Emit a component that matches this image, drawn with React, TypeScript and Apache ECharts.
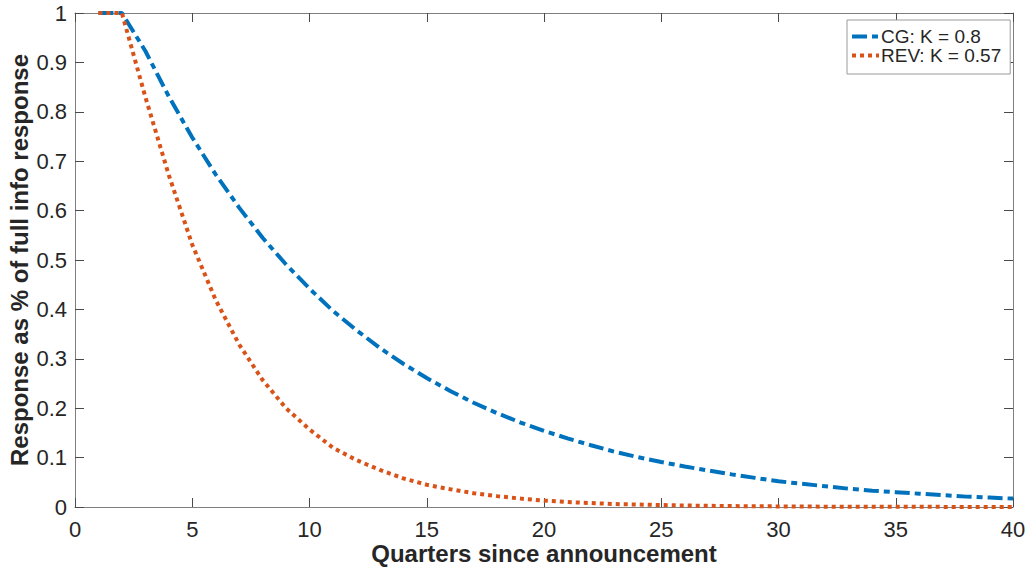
import React, { useEffect, useRef } from "react";
import * as echarts from "echarts";

const quarters = [1, 2, 3, 4, 5, 6, 7, 8, 9, 10, 11, 12, 13, 14, 15, 16, 17, 18, 19, 20, 21, 22, 23, 24, 25, 26, 27, 28, 29, 30, 31, 32, 33, 34, 35, 36, 37, 38, 39, 40];

const cgValues = [1, 1, 0.923, 0.831, 0.748, 0.673, 0.606, 0.545, 0.491, 0.442, 0.397, 0.358, 0.322, 0.29, 0.261, 0.235, 0.211, 0.19, 0.171, 0.154, 0.139, 0.125, 0.112, 0.101, 0.091, 0.082, 0.074, 0.066, 0.059, 0.052, 0.047, 0.042, 0.037, 0.033, 0.03, 0.027, 0.024, 0.021, 0.019, 0.017];

const revValues = [1, 1, 0.83, 0.672, 0.531, 0.419, 0.329, 0.257, 0.2, 0.157, 0.12, 0.095, 0.075, 0.058, 0.045, 0.036, 0.028, 0.022, 0.017, 0.013, 0.01, 0.008, 0.006, 0.005, 0.004, 0.003, 0.0024, 0.0019, 0.0015, 0.0012, 0.0009, 0.0007, 0.0006, 0.0005, 0.0004, 0.0003, 0.00025, 0.0002, 0.00015, 0.0001];

const seriesNames = ["CG: K = 0.8", "REV: K = 0.57"];
const xTitle = "Quarters since announcement";
const yTitle = "Response as % of full info response";

const FONT = "'Liberation Sans', Arial, Helvetica, sans-serif";
const AXIS_COLOR = "#7f7f7f";
const TEXT_COLOR = "#262626";
const BLUE = "#0072BD";
const ORANGE = "#D95319";
const BLUE_DASH = [15, 5, 6, 5];
const ORANGE_DASH = [4, 4];

export default function App() {
  const ref = useRef<HTMLDivElement>(null);

  useEffect(() => {
    if (!ref.current) return;
    const chart = echarts.init(ref.current, undefined, { renderer: "svg" });

    const axisCommon = {
      axisLine: { show: true, onZero: false, lineStyle: { color: AXIS_COLOR, width: 1 } },
      axisTick: { show: true, inside: true, length: 9, lineStyle: { color: "#4a4a4a", width: 1 } },
      splitLine: { show: false },
    };

    chart.setOption({
      animation: false,
      backgroundColor: "#ffffff",
      textStyle: { fontFamily: FONT },
      grid: { left: 75, right: 13, top: 13, bottom: 64, containLabel: false, outerBoundsMode: "none" },
      legend: {
        show: true,
        left: 847,
        top: 20,
        orient: "vertical",
        padding: [7, 9, 9, 3],
        itemGap: 0,
        itemWidth: 27,
        itemHeight: 17,
        backgroundColor: "#ffffff",
        borderColor: "#9a9a9a",
        borderWidth: 1,
        borderRadius: 0,
        textStyle: { fontFamily: FONT, fontSize: 19, color: TEXT_COLOR, lineHeight: 17, padding: [0, 0, 0, -3] },
        data: [
          {
            name: seriesNames[0],
            itemStyle: { opacity: 0 },
            lineStyle: { color: BLUE, width: 4, type: BLUE_DASH, cap: "butt" },
          },
          {
            name: seriesNames[1],
            itemStyle: { opacity: 0 },
            lineStyle: { color: ORANGE, width: 4, type: ORANGE_DASH, cap: "butt" },
          },
        ],
      },
      xAxis: [
        {
          type: "value",
          min: 0,
          max: 40,
          interval: 5,
          position: "bottom",
          ...axisCommon,
          axisLabel: { show: true, fontSize: 22, color: TEXT_COLOR, margin: 11, fontFamily: FONT, lineHeight: 22 },
          name: xTitle,
          nameLocation: "middle",
          nameGap: 34,
          nameMoveOverlap: false,
          nameTextStyle: { fontSize: 24, fontWeight: "bold", color: TEXT_COLOR, fontFamily: FONT, lineHeight: 24 },
        },
        {
          type: "value",
          min: 0,
          max: 40,
          interval: 5,
          position: "top",
          ...axisCommon,
          axisLabel: { show: false },
        },
      ],
      yAxis: [
        {
          type: "value",
          min: 0,
          max: 1,
          interval: 0.1,
          position: "left",
          ...axisCommon,
          axisLabel: {
            show: true,
            fontSize: 22,
            color: TEXT_COLOR,
            margin: 8,
            fontFamily: FONT,
            formatter: (v: number) => (v === 0 ? "0" : v >= 0.999 ? "1" : v.toFixed(1)),
          },
          name: yTitle,
          nameLocation: "middle",
          nameGap: 44,
          nameRotate: 90,
          nameMoveOverlap: false,
          nameTextStyle: { fontSize: 24, fontWeight: "bold", color: TEXT_COLOR, fontFamily: FONT },
        },
        {
          type: "value",
          min: 0,
          max: 1,
          interval: 0.1,
          position: "right",
          ...axisCommon,
          axisLabel: { show: false },
        },
      ],
      series: [
        {
          name: seriesNames[0],
          type: "line",
          xAxisIndex: 0,
          yAxisIndex: 0,
          symbol: "none",
          data: quarters.map((q, i) => [q, cgValues[i]]),
          lineStyle: { color: BLUE, width: 4, type: BLUE_DASH, cap: "butt" },
          itemStyle: { color: BLUE },
          z: 2,
        },
        {
          name: seriesNames[1],
          type: "line",
          xAxisIndex: 0,
          yAxisIndex: 0,
          symbol: "none",
          data: quarters.map((q, i) => [q, revValues[i]]),
          lineStyle: { color: ORANGE, width: 4, type: ORANGE_DASH, cap: "butt" },
          itemStyle: { color: ORANGE },
          z: 3,
        },
      ],
    });

    return () => chart.dispose();
  }, []);

  return (
    <div
      ref={ref}
      style={{ position: "fixed", left: 0, top: 0, width: 1026, height: 571, background: "#fff" }}
    />
  );
}
